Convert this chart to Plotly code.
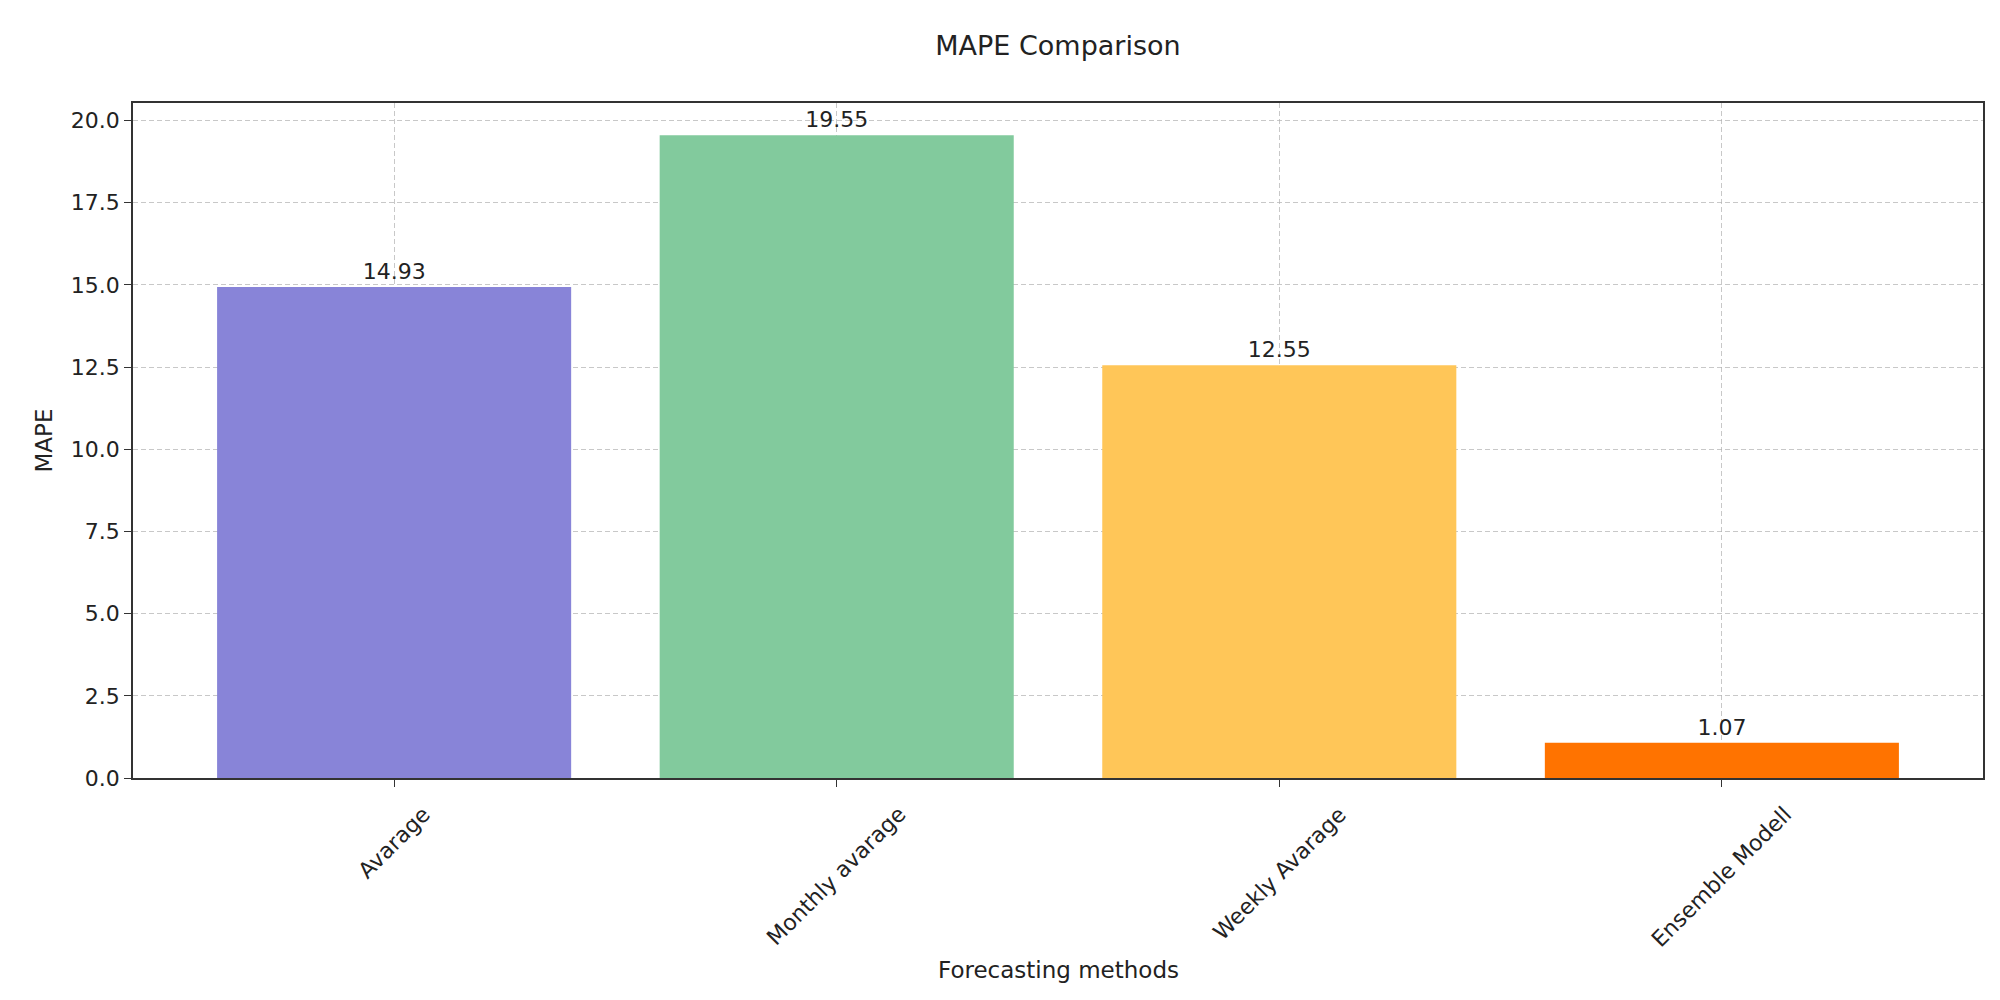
import plotly.graph_objects as go

# Values
methods = ['Avarage', 'Monthly avarage', 'Weekly Avarage', 'Ensemble Modell']
mape = [14.93, 19.55, 12.55, 1.07]
bar_colors = ['#8884d8', '#82ca9d', '#ffc658', '#ff7300']
y_ticks = [0, 2.5, 5, 7.5, 10, 12.5, 15, 17.5, 20]

FONT = 'DejaVu Sans'
TEXT = '#222222'
GRID = 'rgba(176,176,176,0.7)'

fig = go.Figure()

fig.add_trace(
    go.Bar(
        x=list(range(len(methods))),
        y=mape,
        width=0.8,
        marker=dict(color=bar_colors, line=dict(width=0)),
        text=['%.2f' % v for v in mape],
        textposition='outside',
        textfont=dict(family=FONT, size=22, color=TEXT),
        cliponaxis=False,
        hovertemplate='<b>%{customdata}</b><br>%{y:.2f}<extra></extra>',
        customdata=methods,
    )
)

# Rotated category labels, centred under each tick like matplotlib does
for i, name in enumerate(methods):
    fig.add_annotation(
        x=i, y=-0.031, xref='x', yref='paper',
        text=name, showarrow=False, textangle=-45,
        xanchor='center', yanchor='top',
        font=dict(family=FONT, size=22, color=TEXT)
    )

# x axis title
fig.add_annotation(
    x=0.5, y=-0.284, xref='paper', yref='paper',
    text='Forecasting methods', showarrow=False,
    xanchor='center', yanchor='middle',
    font=dict(family=FONT, size=23, color=TEXT)
)

fig.update_layout(
    width=2000,
    height=1000,
    paper_bgcolor='white',
    plot_bgcolor='white',
    showlegend=False,
    font=dict(family=FONT, size=22, color=TEXT),
    title=dict(
        text='MAPE Comparison',
        x=0.5, xref='paper', xanchor='center',
        y=0.962, yref='container', yanchor='middle',
        font=dict(family=FONT, size=27, color=TEXT)
    ),
    margin=dict(l=125, r=25, t=95, b=230),
    xaxis=dict(
        range=[-0.59, len(methods) - 1 + 0.59],
        tickmode='array',
        tickvals=list(range(len(methods))),
        showticklabels=False,
        ticks='outside', ticklen=7, tickcolor='#333333',
        showgrid=True, gridcolor=GRID, gridwidth=1, griddash='5px,3px',
        showline=True, linecolor='#333333', linewidth=1.5, mirror=True,
        zeroline=False,
        layer='above traces'
    ),
    yaxis=dict(
        range=[0, 20.53],
        tickmode='array',
        tickvals=y_ticks,
        ticktext=['%.1f' % t for t in y_ticks],
        ticks='outside', ticklen=7, tickcolor='#333333',
        tickfont=dict(family=FONT, size=22, color=TEXT),
        showgrid=True, gridcolor=GRID, gridwidth=1, griddash='5px,3px',
        showline=True, linecolor='#333333', linewidth=1.5, mirror=True,
        zeroline=False,
        title=dict(text='MAPE', standoff=12,
                   font=dict(family=FONT, size=23, color=TEXT)),
        layer='above traces'
    ),
)

fig.write_html('out.html')
